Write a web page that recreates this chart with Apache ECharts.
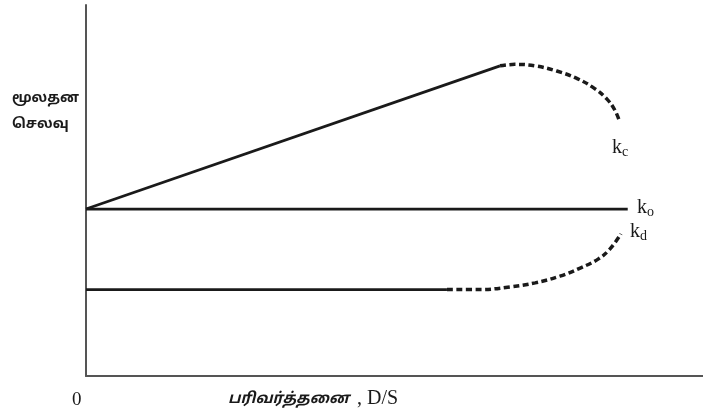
<!DOCTYPE html>
<html>
<head>
<meta charset="utf-8">
<script src="https://cdn.jsdelivr.net/npm/echarts@6/dist/echarts.min.js"></script>
<style>html,body{margin:0;padding:0;background:#fff}#c{width:703px;height:417px}</style>
</head>
<body>
<div id="c"></div>
<script>
// Values on an arbitrary 0-100 scale
var kcSolidX = [0, 67.1];
var kcSolidY = [45.0, 83.6];
var kcDashX = [67.1, 69.5, 72.8, 76.3, 79.7, 82.5, 84.4, 85.7, 86.5];
var kcDashY = [83.6, 84.0, 83.6, 82.2, 80.1, 77.4, 74.7, 71.7, 68.5];
var koX = [0, 87.8];
var koY = [45.0, 45.0];
var kdSolidX = [0, 58.5];
var kdSolidY = [23.3, 23.3];
var kdDashX = [58.5, 63.9, 68.7, 72.8, 76.8, 80.1, 83.0, 84.9, 86.7];
var kdDashY = [23.3, 23.3, 24.0, 25.1, 26.9, 29.1, 31.5, 34.2, 38.3];
var yName = ['மூலதன', 'செலவு'];
var xName = 'பரிவர்த்தனை';
var xNameLatin = ', D/S';
var originLabel = '0';

function pairs(xs, ys){ return xs.map(function(x,i){ return [x, ys[i]]; }); }

var tamilFont = "'Noto Sans Tamil','Lohit Tamil','Noto Sans',sans-serif";
var serif = "'Liberation Serif','DejaVu Serif',serif";
var ink = '#1a1a1a';

var chart = echarts.init(document.getElementById('c'));
chart.setOption({
  animation: false,
  grid: {left: 86, right: 0, top: 5, bottom: 41},
  xAxis: {type: 'value', min: 0, max: 100, axisLine: {show: true, lineStyle: {color: '#555', width: 2}},
          axisTick: {show: false}, axisLabel: {show: false}, splitLine: {show: false}},
  yAxis: {type: 'value', min: 0, max: 100, axisLine: {show: true, lineStyle: {color: '#555', width: 2}},
          axisTick: {show: false}, axisLabel: {show: false}, splitLine: {show: false}},
  series: [
    {type: 'line', data: pairs(kcSolidX, kcSolidY), symbol: 'none', lineStyle: {color: ink, width: 2.8}},
    {type: 'line', data: pairs(kcDashX, kcDashY), symbol: 'none', smooth: 0.4, lineStyle: {color: ink, width: 3.5, type: [6, 3.5]}},
    {type: 'line', data: pairs(koX, koY), symbol: 'none', lineStyle: {color: ink, width: 2.8}},
    {type: 'line', data: pairs(kdSolidX, kdSolidY), symbol: 'none', lineStyle: {color: ink, width: 2.8}},
    {type: 'line', data: pairs(kdDashX, kdDashY), symbol: 'none', smooth: 0.4, lineStyle: {color: ink, width: 3.5, type: [6, 3.5]}}
  ],
  graphic: [
    {type: 'text', left: 12, top: 92, style: {text: yName[0], font: 'bold 14px ' + tamilFont, fill: ink}},
    {type: 'text', left: 12, top: 118, style: {text: yName[1], font: 'bold 14px ' + tamilFont, fill: ink}},
    {type: 'text', left: 72, top: 391, style: {text: originLabel, font: '19px ' + serif, fill: ink}},
    {type: 'text', left: 228, top: 392, style: {text: xName, font: 'italic bold 15px ' + tamilFont, fill: ink}},
    {type: 'text', left: 357, top: 389, style: {text: xNameLatin, font: '20px ' + serif, fill: ink}},
    {type: 'text', left: 612, top: 138, style: {rich: {k: {font: '20px ' + serif, fill: ink}, s: {font: '14px ' + serif, fill: ink, padding: [8,0,0,0]}}, text: '{k|k}{s|c}'}},
    {type: 'text', left: 637, top: 198, style: {rich: {k: {font: '20px ' + serif, fill: ink}, s: {font: '14px ' + serif, fill: ink, padding: [8,0,0,0]}}, text: '{k|k}{s|o}'}},
    {type: 'text', left: 630, top: 222, style: {rich: {k: {font: '20px ' + serif, fill: ink}, s: {font: '14px ' + serif, fill: ink, padding: [8,0,0,0]}}, text: '{k|k}{s|d}'}}
  ]
});
</script>
</body>
</html>
